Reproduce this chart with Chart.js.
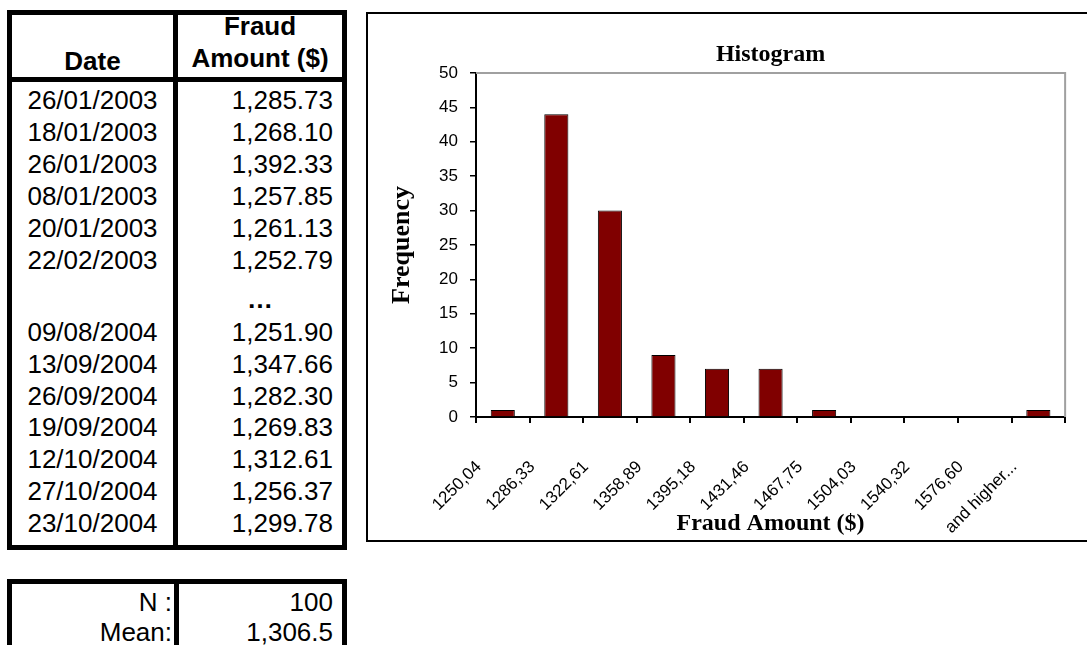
<!DOCTYPE html>
<html>
<head>
<meta charset="utf-8">
<script src="https://cdn.jsdelivr.net/npm/chart.js@4"></script>
<style>
  html, body { margin: 0; padding: 0; background: #fff; }
  body { width: 1087px; height: 645px; overflow: hidden; position: relative;
         font-family: "Liberation Sans", Arial, sans-serif; color: #000; }
  .box { position: absolute; box-sizing: border-box; border: 5px solid #000; }
  .bar { position: absolute; background: #000; }
  .txt { position: absolute; font-size: 26px; line-height: 32px; white-space: nowrap; }
  .b { font-weight: bold; }
  #chartBox { position: absolute; left: 366px; top: 12px; width: 800px; height: 530px;
              box-sizing: border-box; border: 2px solid #000; }
  #wrap { position: absolute; left: 368px; top: 14px; width: 719px; height: 526px; }
</style>
</head>
<body>

<div id="tables"></div>
<div id="chartBox"></div>
<div id="wrap"><canvas id="histo"></canvas></div>

<script>
/*-------------------
    DATA
--------------------*/
const dates = ['26/01/2003','18/01/2003','26/01/2003','08/01/2003','20/01/2003','22/02/2003',
               '09/08/2004','13/09/2004','26/09/2004','19/09/2004','12/10/2004','27/10/2004','23/10/2004'];
const amounts = ['1,285.73','1,268.10','1,392.33','1,257.85','1,261.13','1,252.79',
                 '1,251.90','1,347.66','1,282.30','1,269.83','1,312.61','1,256.37','1,299.78'];
const statLabels = ['N :', 'Mean:'];
const statValues = ['100', '1,306.5'];

const binLabels = ['1250,04','1286,33','1322,61','1358,89','1395,18','1431,46',
                   '1467,75','1504,03','1540,32','1576,60','and higher...'];
const frequency = [1, 44, 30, 9, 7, 7, 1, 0, 0, 0, 1];

/*-------------------
    TABLES
--------------------*/
const tables = document.getElementById('tables');
function add(html) { tables.insertAdjacentHTML('beforeend', html); }

// data table frame
add('<div class="box" style="left:7px;top:10px;width:340px;height:540px"></div>');
add('<div class="bar" style="left:173px;top:10px;width:5px;height:540px"></div>');
add('<div class="bar" style="left:7px;top:77px;width:340px;height:5px"></div>');

// header
add('<div class="txt b" style="left:12px;width:161px;top:45px;text-align:center">Date</div>');
add('<div class="txt b" style="left:178px;width:164px;top:10px;text-align:center">Fraud</div>');
add('<div class="txt b" style="left:178px;width:164px;top:42px;text-align:center">Amount ($)</div>');

// rows, with a gap row after the sixth
dates.forEach((d, i) => {
    const y = i < 6 ? 84 + i * 32 : 316 + (i - 6) * 31.8;
    add('<div class="txt" style="left:12px;width:161px;top:' + y + 'px;text-align:center">' + d + '</div>');
    add('<div class="txt" style="left:178px;width:155px;top:' + y + 'px;text-align:right">' + amounts[i] + '</div>');
});
add('<div class="txt b" style="left:178px;width:164px;top:283px;text-align:center">…</div>');

// stats table
add('<div class="box" style="left:7px;top:579px;width:340px;height:120px"></div>');
add('<div class="bar" style="left:174px;top:579px;width:5px;height:120px"></div>');
statLabels.forEach((s, i) => {
    const y = 586 + i * 30;
    add('<div class="txt" style="left:12px;width:160px;top:' + y + 'px;text-align:right">' + s + '</div>');
    add('<div class="txt" style="left:179px;width:154px;top:' + y + 'px;text-align:right">' + statValues[i] + '</div>');
});

/*-------------------
    HISTOGRAM
--------------------*/
const serif = '"Liberation Serif", "Times New Roman", serif';
const sans = '"Liberation Sans", Arial, sans-serif';

// grey top / right edge of plot area, title centred over the plot area
const plotFrame = {
    id: 'plotFrame',
    beforeDatasetsDraw(chart) {
        const a = chart.chartArea, ctx = chart.ctx;
        ctx.save();
        ctx.strokeStyle = '#a0a0a0';
        ctx.lineWidth = 2;
        ctx.beginPath();
        ctx.moveTo(a.left, a.top);
        ctx.lineTo(a.right, a.top);
        ctx.lineTo(a.right, a.bottom);
        ctx.stroke();

        ctx.fillStyle = '#000';
        ctx.font = 'bold 24px ' + serif;
        ctx.textAlign = 'center';
        ctx.textBaseline = 'middle';
        ctx.fillText('Histogram', (a.left + a.right) / 2, 41);
        ctx.restore();
    }
};

const canvas = document.getElementById('histo');

new Chart(canvas, {
    type: 'bar',
    data: {
        labels: binLabels,
        datasets: [{
            label: 'Frequency',
            data: frequency,
            backgroundColor: '#800000',
            borderColor: '#000',
            borderWidth: 1,
            barPercentage: 0.45,
            categoryPercentage: 1
        }]
    },
    options: {
        responsive: true,
        maintainAspectRatio: false,
        animation: false,
        layout: { padding: { top: 59, right: 5, bottom: 0, left: 0 } },
        plugins: {
            legend: { display: false },
            tooltip: { enabled: false },
            title: { display: false }
        },
        scales: {
            x: {
                afterFit: s => { s.height = 123; },
                grid: { drawOnChartArea: false, color: '#000', tickLength: 6, lineWidth: 2 },
                border: { color: '#000', width: 2 },
                ticks: {
                    color: '#000',
                    font: { family: sans, size: 17 },
                    minRotation: 45,
                    maxRotation: 45,
                    autoSkip: false,
                    padding: 34,
                    labelOffset: -24
                },
                title: {
                    display: true,
                    text: 'Fraud Amount ($)',
                    color: '#000',
                    font: { family: serif, size: 24, weight: 'bold' },
                    padding: { top: 0, bottom: 2 }
                }
            },
            y: {
                min: 0,
                max: 50,
                afterFit: s => { s.width = 108; },
                grid: { drawOnChartArea: false, color: '#000', tickLength: 6, lineWidth: 1.5 },
                border: { color: '#000', width: 2 },
                ticks: {
                    stepSize: 5,
                    color: '#000',
                    font: { family: sans, size: 17 },
                    padding: 12
                },
                title: {
                    display: true,
                    text: 'Frequency',
                    color: '#000',
                    font: { family: serif, size: 26, weight: 'bold' },
                    padding: { top: 19, bottom: 0 }
                }
            }
        }
    },
    plugins: [plotFrame]
});
</script>
</body>
</html>
